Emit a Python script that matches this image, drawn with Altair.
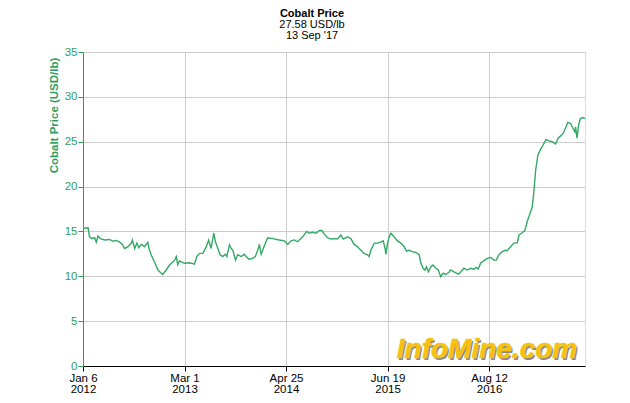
import altair as alt
import pandas as pd

dates = [
    "2012-01-06", "2012-01-27", "2012-02-02", "2012-02-12", "2012-02-23", "2012-03-01",
    "2012-03-08", "2012-03-18", "2012-04-05", "2012-04-25", "2012-05-09", "2012-05-23",
    "2012-06-06", "2012-06-17", "2012-06-26", "2012-07-10", "2012-07-24", "2012-07-28",
    "2012-08-07", "2012-08-16", "2012-08-24", "2012-09-03", "2012-09-17", "2012-09-30",
    "2012-10-05", "2012-10-14", "2012-10-28", "2012-11-11", "2012-11-25", "2012-12-01",
    "2012-12-15", "2012-12-29", "2013-01-19", "2013-01-26", "2013-02-01", "2013-02-08",
    "2013-03-01", "2013-03-22", "2013-04-11", "2013-04-21", "2013-05-02", "2013-05-16",
    "2013-05-30", "2013-06-09", "2013-06-19", "2013-06-26", "2013-06-30", "2013-07-07",
    "2013-07-17", "2013-07-26", "2013-08-06", "2013-08-17", "2013-08-23", "2013-09-03",
    "2013-09-10", "2013-09-17", "2013-09-28", "2013-10-07", "2013-10-21", "2013-11-04",
    "2013-11-11", "2013-11-22", "2013-12-08", "2013-12-19", "2013-12-29", "2014-01-05",
    "2014-01-12", "2014-01-21", "2014-02-01", "2014-02-08", "2014-03-01", "2014-03-28",
    "2014-04-18", "2014-05-02", "2014-05-16", "2014-05-29", "2014-06-12", "2014-07-03",
    "2014-07-19", "2014-07-30", "2014-08-13", "2014-08-27", "2014-09-10", "2014-09-21",
    "2014-09-30", "2014-10-14", "2014-10-28", "2014-11-11", "2014-11-24", "2014-12-08",
    "2014-12-18", "2015-01-04", "2015-01-18", "2015-02-01", "2015-02-15", "2015-03-01",
    "2015-03-14", "2015-03-28", "2015-04-04", "2015-04-11", "2015-04-25", "2015-05-08",
    "2015-05-22", "2015-06-01", "2015-06-09", "2015-06-12", "2015-06-19", "2015-06-26",
    "2015-07-03", "2015-07-16", "2015-07-30", "2015-08-13", "2015-08-27", "2015-09-05",
    "2015-09-16", "2015-09-30", "2015-10-14", "2015-10-28", "2015-11-04", "2015-11-13",
    "2015-11-21", "2015-11-27", "2015-12-05", "2015-12-15", "2015-12-24", "2016-01-05",
    "2016-01-15", "2016-01-25", "2016-02-04", "2016-02-15", "2016-02-28", "2016-03-06",
    "2016-03-20", "2016-04-07", "2016-04-17", "2016-04-30", "2016-05-14", "2016-05-28",
    "2016-06-11", "2016-06-20", "2016-06-28", "2016-07-08", "2016-07-22", "2016-08-05",
    "2016-08-19", "2016-09-01", "2016-09-11", "2016-09-22", "2016-10-06", "2016-10-17",
    "2016-10-26", "2016-11-09", "2016-11-23", "2016-12-07", "2016-12-14", "2016-12-27",
    "2017-01-07", "2017-01-17", "2017-01-31", "2017-02-07", "2017-02-14", "2017-02-21",
    "2017-03-02", "2017-03-13", "2017-03-23", "2017-04-05", "2017-04-16", "2017-04-30",
    "2017-05-14", "2017-05-25", "2017-06-04", "2017-06-15", "2017-06-24", "2017-07-04",
    "2017-07-15", "2017-07-25", "2017-08-02", "2017-08-05", "2017-08-11", "2017-08-18",
    "2017-08-25", "2017-09-05", "2017-09-13",
]

prices = [
    15.35, 15.4, 14.4, 14.2, 14.3, 13.8,
    14.5, 14.2, 14.05, 14.1, 13.9, 14.0,
    13.8, 13.55, 13.1, 13.3, 13.7, 14.05,
    13.1, 13.7, 13.2, 13.55, 13.3, 13.8,
    13.1, 12.4, 11.6, 10.7, 10.35, 10.2,
    10.7, 11.25, 11.8, 12.2, 11.3, 11.7,
    11.45, 11.5, 11.35, 12.2, 12.55, 12.55,
    13.3, 14.05, 13.1, 14.2, 14.8, 13.85,
    13.1, 12.4, 12.2, 12.45, 12.2, 13.5,
    13.1, 12.9, 11.8, 12.4, 12.2, 12.45,
    12.2, 11.9, 12.0, 12.2, 12.9, 13.55,
    12.45, 13.1, 13.85, 14.3, 14.2, 14.05,
    13.95, 13.55, 13.95, 14.05, 13.85, 14.4,
    15.0, 14.8, 14.9, 14.8, 15.1, 15.1,
    14.7, 14.3, 14.15, 14.2, 14.15, 14.6,
    14.15, 14.4, 14.2, 13.55, 13.3, 12.9,
    12.55, 12.4, 12.2, 12.9, 13.7, 13.7,
    13.8, 13.95, 13.1, 12.45, 13.7, 14.4,
    14.8, 14.4, 13.95, 13.7, 13.3, 12.8,
    12.9, 12.75, 12.65, 12.4, 11.45, 10.9,
    10.7, 11.05, 10.5, 11.05, 11.25, 10.9,
    10.7, 9.95, 10.35, 10.2, 10.45, 10.7,
    10.5, 10.25, 10.5, 10.9, 10.7, 10.9,
    10.8, 11.0, 10.8, 11.45, 11.75, 12.0,
    12.1, 11.8, 11.8, 12.4, 12.75, 12.9,
    12.85, 13.3, 13.7, 13.75, 14.6, 14.85,
    15.1, 16.1, 17.2, 17.75, 19.6, 21.85,
    23.5, 24.15, 24.6, 25.25, 25.1, 25.0,
    24.75, 25.4, 25.65, 25.95, 26.5, 27.15,
    27.05, 26.5, 26.1, 26.65, 25.4, 26.9,
    27.6, 27.7, 27.58,
]

y_ticks = [0, 5, 10, 15, 20, 25, 30, 35]
x_tick_dates = [(2012, 1, 6), (2013, 3, 1), (2014, 4, 25), (2015, 6, 19), (2016, 8, 12)]
x_domain = [(2012, 1, 6), (2017, 9, 13)]
title_text = "Cobalt Price"
subtitle_lines = ["27.58 USD/lb", "13 Sep '17"]
watermark = ["InfoMine.com"]

GREEN = "#2e9d5e"
FONT = "Liberation Sans"

df = pd.DataFrame({"date": dates, "price": prices})


def dt(t):
    return alt.DateTime(year=t[0], month=t[1], date=t[2], utc=True)


line = alt.Chart(df).mark_line(color="#34a865", strokeWidth=1.4).encode(
    x=alt.X(
        "date:T",
        scale=alt.Scale(type="utc", domain=[dt(t) for t in x_domain]),
        axis=alt.Axis(
            values=[dt(t) for t in x_tick_dates],
            labelExpr="[utcFormat(datum.value, '%b %-d'), utcFormat(datum.value, '%Y')]",
            title=None,
            grid=True,
            gridColor="#cccccc",
            domainColor="#000000",
            tickColor="#000000",
            tickSize=5,
            labelColor="#000000",
            labelFontSize=11.5,
            labelFont=FONT,
            labelPadding=1,
            labelLineHeight=11,
            labelFlush=False,
            labelOverlap=False,
        ),
    ),
    y=alt.Y(
        "price:Q",
        scale=alt.Scale(domain=[0, 35], nice=False, zero=True),
        axis=alt.Axis(
            values=y_ticks,
            title="Cobalt Price (USD/lb)",
            titleColor=GREEN,
            titleFont=FONT,
            titleFontWeight="bold",
            titleFontSize=11.5,
            titleX=-24,
            titleY=63,
            titleAngle=270,
            titleAlign="center",
            titleBaseline="bottom",
            grid=True,
            gridColor="#cccccc",
            domainColor=GREEN,
            tickColor=GREEN,
            tickSize=5,
            labelColor=GREEN,
            labelFontSize=11.5,
            labelFont=FONT,
            labelPadding=1,
            labelOverlap=False,
        ),
    ),
)

wm_df = pd.DataFrame({"t": watermark})
wm_shadow = alt.Chart(wm_df).mark_text(
    font=FONT, fontStyle="italic", fontWeight="bold", fontSize=28,
    color="#8a8a8a", align="center", baseline="middle",
).encode(text="t:N", x=alt.value(405.5), y=alt.value(299.5))
wm_text = alt.Chart(wm_df).mark_text(
    font=FONT, fontStyle="italic", fontWeight="bold", fontSize=28,
    color="#f6c20f", stroke="#f6c20f", strokeWidth=0.6,
    align="center", baseline="middle",
).encode(text="t:N", x=alt.value(404), y=alt.value(298))

chart = alt.layer(line, wm_shadow, wm_text).properties(
    width=502,
    height=314,
    autosize=alt.AutoSizeParams(type="none"),
    padding={"left": 75, "top": 44, "right": 37, "bottom": 29},
    title=alt.Title(
        text=title_text,
        subtitle=subtitle_lines,
        anchor="middle",
        frame="group",
        dx=-22,
        offset=5,
        font=FONT,
        fontSize=11,
        fontWeight="bold",
        color="#000000",
        subtitleFont=FONT,
        subtitleFontSize=11,
        subtitleColor="#000000",
        subtitlePadding=0,
        subtitleLineHeight=11,
    ),
).configure_view(stroke="#707070", strokeWidth=2).configure(font=FONT)

chart.save("out.html", embed_options={"renderer": "svg", "actions": False})
